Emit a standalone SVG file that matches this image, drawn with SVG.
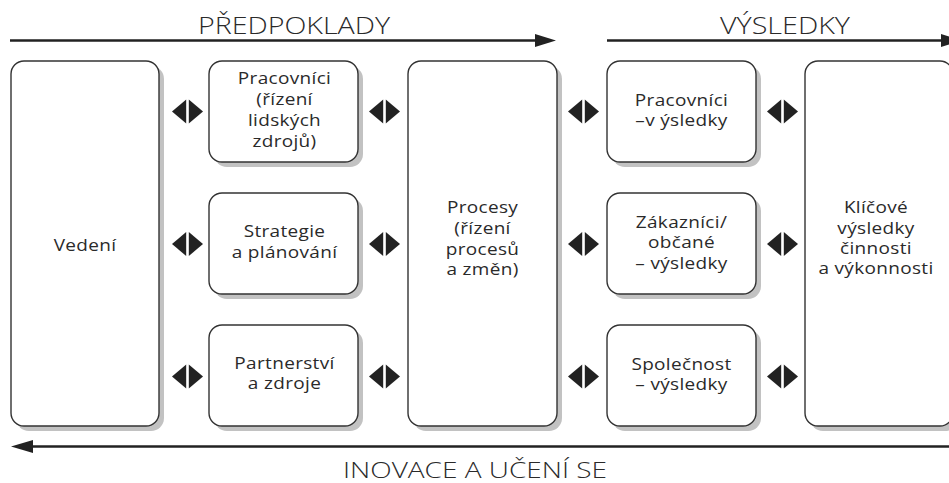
<svg xmlns="http://www.w3.org/2000/svg" width="949" height="483" viewBox="0 0 949 483">
<style>
.bx{fill:#fff;stroke:#333;stroke-width:1.4}
.sh{fill:#c2c2c2}
.t{font-family:"Open Sans","Liberation Sans",sans-serif;font-size:16.5px;fill:#2a2a2a;text-anchor:middle;letter-spacing:0.3px}
.h{font-family:"Open Sans","Liberation Sans",sans-serif;font-size:24px;font-weight:300;fill:#2a2a2a;text-anchor:middle}
.ar{fill:#222}
.ln{stroke:#222;stroke-width:2.6;fill:none}
</style>
<defs>
<g id="dbl">
<polygon class="ar" points="-15.5,0 -1.3,-12 -1.3,12"/>
<polygon class="ar" points="15.5,0 1.3,-12 1.3,12"/>
</g>
</defs>
<rect width="949" height="483" fill="#fff"/>

<g id="headings">
<text class="h" x="294" y="34" textLength="192" lengthAdjust="spacingAndGlyphs">PŘEDPOKLADY</text>
<text class="h" x="785" y="34" textLength="130" lengthAdjust="spacingAndGlyphs">VÝSLEDKY</text>
<text class="h" x="475" y="478" style="font-size:22px" textLength="264" lengthAdjust="spacingAndGlyphs">INOVACE A UČENÍ SE</text>
</g>

<g id="node-vedeni">
<rect class="sh" x="16" y="66" width="148" height="365" rx="13"/>
<rect class="bx" x="11" y="61" width="148" height="365" rx="13"/>
<text class="t" transform="translate(85 0) scale(1.15 1)"><tspan x="0" y="251">Vedení</tspan></text>
</g>

<g id="node-pracovnici">
<rect class="sh" x="214" y="66" width="149" height="101" rx="13"/>
<rect class="bx" x="209" y="61" width="149" height="101" rx="13"/>
<text class="t" transform="translate(284.5 0) scale(1.15 1)"><tspan x="0" y="84.5">Pracovníci</tspan><tspan x="0" y="105.5">(řízení</tspan><tspan x="0" y="126.5">lidských</tspan><tspan x="0" y="147">zdrojů)</tspan></text>
</g>

<g id="node-strategie">
<rect class="sh" x="214" y="198" width="149" height="101" rx="13"/>
<rect class="bx" x="209" y="193" width="149" height="101" rx="13"/>
<text class="t" transform="translate(284.5 0) scale(1.15 1)"><tspan x="0" y="237.5">Strategie</tspan><tspan x="0" y="258.5">a plánování</tspan></text>
</g>

<g id="node-partnerstvi">
<rect class="sh" x="214" y="330" width="149" height="101" rx="13"/>
<rect class="bx" x="209" y="325" width="149" height="101" rx="13"/>
<text class="t" transform="translate(284.5 0) scale(1.15 1)"><tspan x="0" y="369">Partnerství</tspan><tspan x="0" y="389.5">a zdroje</tspan></text>
</g>

<g id="node-procesy">
<rect class="sh" x="413" y="66" width="149" height="365" rx="13"/>
<rect class="bx" x="408" y="61" width="149" height="365" rx="13"/>
<text class="t" transform="translate(482.5 0) scale(1.15 1)"><tspan x="0" y="213.5">Procesy</tspan><tspan x="0" y="234">(řízení</tspan><tspan x="0" y="255">procesů</tspan><tspan x="0" y="275.5">a změn)</tspan></text>
</g>

<g id="node-pracovnici-vysledky">
<rect class="sh" x="612" y="66" width="149" height="101" rx="13"/>
<rect class="bx" x="607" y="61" width="149" height="101" rx="13"/>
<text class="t" transform="translate(681.5 0) scale(1.15 1)"><tspan x="0" y="106">Pracovníci</tspan><tspan x="0" y="126.5">–v ýsledky</tspan></text>
</g>

<g id="node-zakaznici">
<rect class="sh" x="612" y="198" width="149" height="101" rx="13"/>
<rect class="bx" x="607" y="193" width="149" height="101" rx="13"/>
<text class="t" transform="translate(681.5 0) scale(1.15 1)"><tspan x="0" y="228">Zákazníci/</tspan><tspan x="0" y="248.5">občané</tspan><tspan x="0" y="269">– výsledky</tspan></text>
</g>

<g id="node-spolecnost">
<rect class="sh" x="612" y="330" width="149" height="101" rx="13"/>
<rect class="bx" x="607" y="325" width="149" height="101" rx="13"/>
<text class="t" transform="translate(681.5 0) scale(1.15 1)"><tspan x="0" y="370.5">Společnost</tspan><tspan x="0" y="390.5">– výsledky</tspan></text>
</g>

<g id="node-klicove">
<rect class="sh" x="810" y="66" width="148" height="365" rx="13"/>
<rect class="bx" x="805" y="61" width="148" height="365" rx="13"/>
<text class="t" transform="translate(876 0) scale(1.15 1)"><tspan x="0" y="213.5">Klíčové</tspan><tspan x="0" y="234.5">výsledky</tspan><tspan x="0" y="254.5">činnosti</tspan><tspan x="0" y="274.5">a výkonnosti</tspan></text>
</g>

<g id="connectors">
<line class="ln" x1="10" y1="40.5" x2="538" y2="40.5"/>
<polygon class="ar" points="535,34 556,40.5 535,47"/>
<line class="ln" x1="607" y1="40.5" x2="944" y2="40.5"/>
<polygon class="ar" points="941,34 962,40.5 941,47"/>
<line class="ln" x1="30" y1="446.5" x2="949" y2="446.5"/>
<polygon class="ar" points="11,446.5 33,440 33,453"/>
<use href="#dbl" x="187.5" y="111.5"/>
<use href="#dbl" x="187.5" y="244"/>
<use href="#dbl" x="187.5" y="376.5"/>
<use href="#dbl" x="384.5" y="111.5"/>
<use href="#dbl" x="384.5" y="244"/>
<use href="#dbl" x="384.5" y="376.5"/>
<use href="#dbl" x="583.5" y="111.5"/>
<use href="#dbl" x="583.5" y="244"/>
<use href="#dbl" x="583.5" y="376.5"/>
<use href="#dbl" x="782.5" y="111.5"/>
<use href="#dbl" x="782.5" y="244"/>
<use href="#dbl" x="782.5" y="376.5"/>
</g>
</svg>
